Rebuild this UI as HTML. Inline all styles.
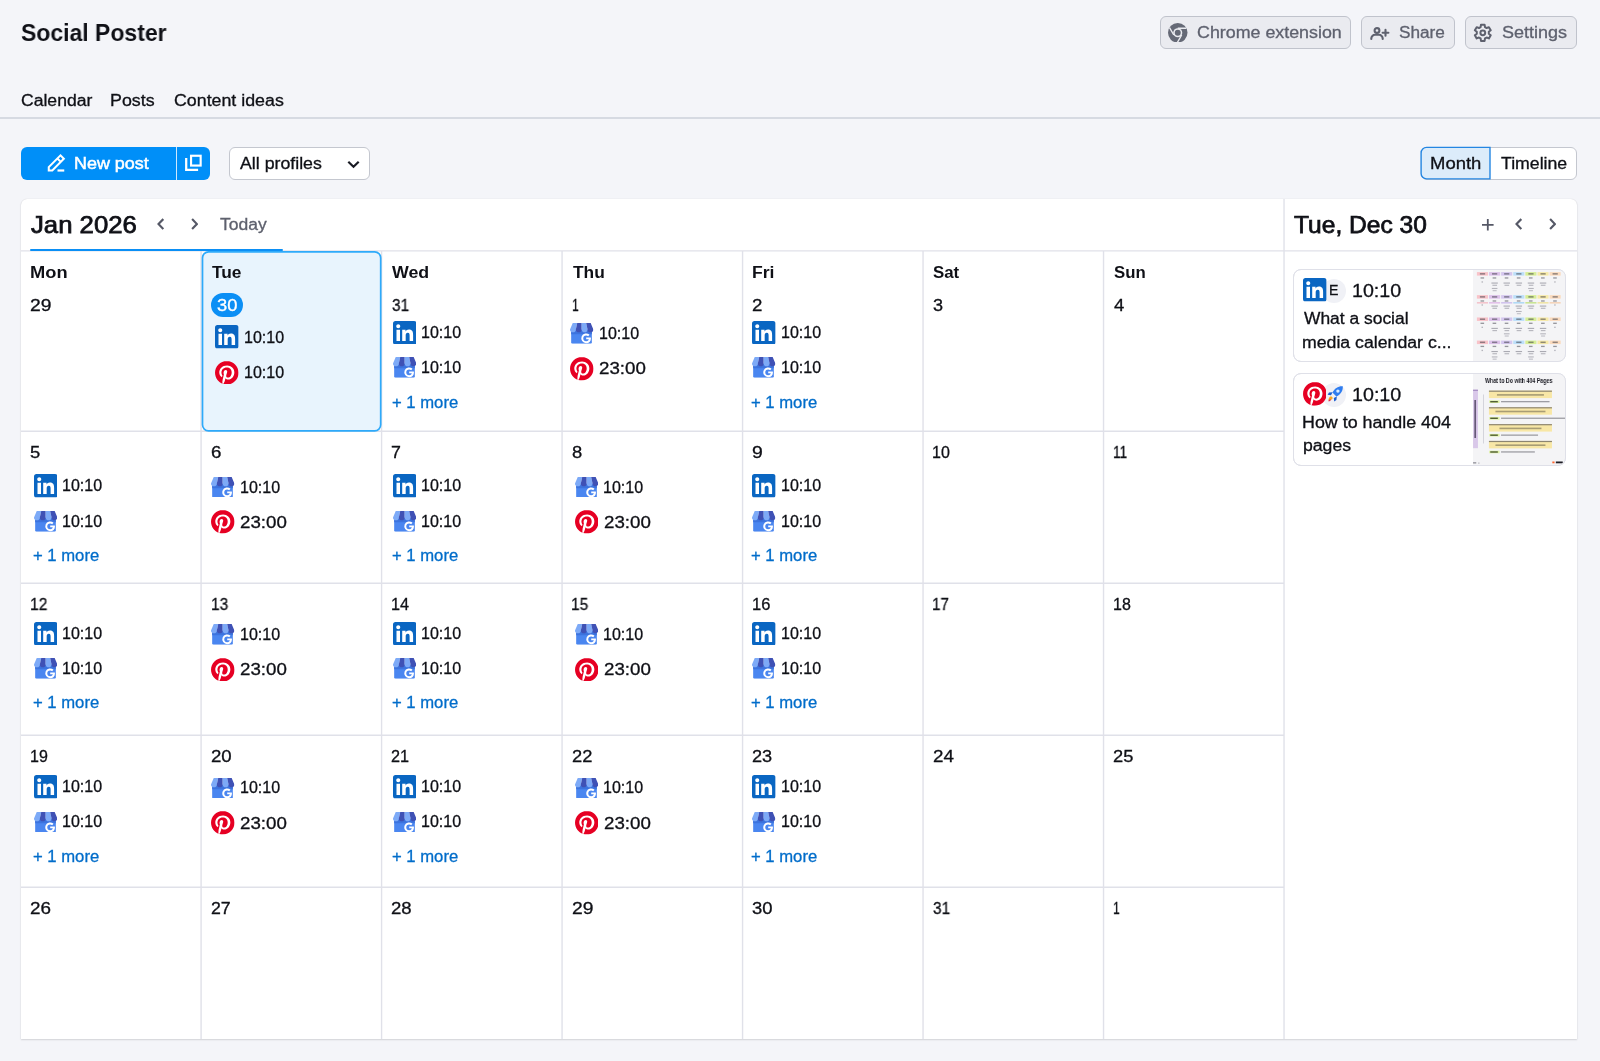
<!DOCTYPE html>
<html lang="en"><head><meta charset="utf-8"><title>Social Poster</title>
<style>
html,body{margin:0;padding:0}
body{width:1600px;height:1061px;overflow:hidden;background:#f4f5f9;font-family:"Liberation Sans",sans-serif;position:relative}
.a{position:absolute;display:block}
.t{position:absolute;line-height:1;white-space:nowrap;will-change:transform;transform-origin:0 0}
</style></head>
<body>
<svg width="0" height="0" style="position:absolute"><defs>
<symbol id="li" viewBox="0 0 24 24"><rect width="24" height="24" rx="2.600" fill="#0a66c2"/><path fill="#fff" d="M20.447 20.452h-3.554v-5.569c0-1.328-.027-3.037-1.852-3.037-1.853 0-2.136 1.445-2.136 2.939v5.667H9.351V9h3.414v1.561h.046c.477-.9 1.637-1.85 3.37-1.85 3.601 0 4.267 2.37 4.267 5.455v6.286zM5.337 7.433c-1.144 0-2.063-.926-2.063-2.065 0-1.138.92-2.063 2.063-2.063 1.14 0 2.064.925 2.064 2.063 0 1.139-.925 2.065-2.064 2.065zM7.119 20.452H3.555V9h3.564v11.452z"/></symbol>
<symbol id="pi" viewBox="0 0 24 24"><circle cx="12" cy="12" r="11.5" fill="#fff"/><path fill="#e60023" d="M12.017 0C5.396 0 .029 5.367.029 11.987c0 5.079 3.158 9.417 7.618 11.162-.105-.949-.199-2.403.041-3.439.219-.937 1.406-5.957 1.406-5.957s-.359-.72-.359-1.781c0-1.663.967-2.911 2.168-2.911 1.024 0 1.518.769 1.518 1.688 0 1.029-.653 2.567-.992 3.992-.285 1.193.6 2.165 1.775 2.165 2.128 0 3.768-2.245 3.768-5.487 0-2.861-2.063-4.869-5.008-4.869-3.41 0-5.409 2.562-5.409 5.199 0 1.033.394 2.143.889 2.741.099.12.112.225.085.345-.09.375-.293 1.199-.334 1.363-.053.225-.172.271-.401.165-1.495-.69-2.433-2.878-2.433-4.646 0-3.776 2.748-7.252 7.92-7.252 4.158 0 7.392 2.967 7.392 6.923 0 4.135-2.607 7.462-6.233 7.462-1.214 0-2.354-.629-2.758-1.379l-.749 2.848c-.269 1.045-1.004 2.352-1.498 3.146 1.123.345 2.306.535 3.55.535 6.607 0 11.985-5.365 11.985-11.987C23.97 5.39 18.592.026 11.985.026L12.017 0z"/></symbol>
<symbol id="gb" viewBox="0 0 24 21.4">
<path fill="#4a86f0" d="M1.2 7h21.2v12.8a1.6 1.6 0 0 1-1.6 1.6H2.800a1.600 1.600 0 0 1-1.600-1.600z"/>
<path fill="#3c73de" d="M1.2 7h21.2v4.600H1.2z"/>
<path fill="#7daaf7" d="M2.800 0H7.400L6 6.600A3 2.900 0 0 1 0 6.600z"/>
<path fill="#3f51b5" d="M7.400 0H12V6.600A3 2.900 0 0 1 6 6.600z"/>
<path fill="#7daaf7" d="M12 0H16.600L18 6.600A3 2.900 0 0 1 12 6.600z"/>
<path fill="#3f51b5" d="M16.600 0H21.200L24 6.600A3 2.900 0 0 1 18 6.600z"/>
<g transform="translate(16.5 15.1) scale(1.16) translate(-16.7 -15.8)"><path fill="#fff" d="M20.9 15.55h-4.1v1.7h2.3c-.2 1.05-1.1 1.7-2.3 1.7a2.6 2.6 0 0 1 0-5.2c.65 0 1.25.23 1.7.65l1.25-1.25a4.35 4.35 0 1 0-2.95 7.55c2.5 0 4.2-1.75 4.2-4.25 0-.3-.03-.6-.1-.9z"/></g>
</symbol>
</defs></svg>
<div class="t" style="left:21.00px;top:21.00px;font-size:24px;color:#0f1016;font-weight:700;transform:scaleX(0.9568);">Social Poster</div>
<div class="t" style="left:20.78px;top:93.00px;font-size:16px;color:#0f1016;transform:scaleX(1.0984);-webkit-text-stroke:0.3px #0f1016;">Calendar</div>
<div class="t" style="left:110.41px;top:93.00px;font-size:16px;color:#0f1016;transform:scaleX(1.1137);-webkit-text-stroke:0.3px #0f1016;">Posts</div>
<div class="t" style="left:173.57px;top:93.00px;font-size:16px;color:#0f1016;transform:scaleX(1.1118);-webkit-text-stroke:0.3px #0f1016;">Content ideas</div>
<svg class="a" style="left:0;top:115px" width="1600" height="6"><path d="M0 3H1600" stroke="#cdd0da" stroke-width="1.700"/></svg>
<div class="a" style="left:1160px;top:15.5px;width:191px;height:33px;box-sizing:border-box;border:1px solid #c0c3cc;border-radius:6px;background:#eaebf0"></div>
<div class="a" style="left:1361px;top:15.5px;width:93.5px;height:33px;box-sizing:border-box;border:1px solid #c0c3cc;border-radius:6px;background:#eaebf0"></div>
<div class="a" style="left:1464.5px;top:15.5px;width:112.5px;height:33px;box-sizing:border-box;border:1px solid #c0c3cc;border-radius:6px;background:#eaebf0"></div>
<div class="t" style="left:1196.86px;top:24.60px;font-size:16px;color:#5e616e;transform:scaleX(1.1145);-webkit-text-stroke:0.3px #5e616e;">Chrome extension</div>
<div class="t" style="left:1398.53px;top:24.60px;font-size:16px;color:#5e616e;transform:scaleX(1.0755);-webkit-text-stroke:0.3px #5e616e;">Share</div>
<div class="t" style="left:1501.50px;top:24.60px;font-size:16px;color:#5e616e;transform:scaleX(1.1242);-webkit-text-stroke:0.3px #5e616e;">Settings</div>
<svg class="a" style="left:1168.3px;top:22.6px" width="19.5" height="19.5" viewBox="0 0 24 24"><circle cx="12" cy="12" r="12" fill="#656976"/><circle cx="12" cy="12" r="5.600" fill="#eaebf0"/><circle cx="12" cy="12" r="3.700" fill="#656976"/><path d="M12 6.400H22.600M7.150 14.800L1.850 5.600M16.850 14.800L11.500 24" stroke="#eaebf0" stroke-width="1.7" fill="none"/></svg>
<svg class="a" style="left:1369px;top:25px" width="21" height="16" viewBox="0 0 21 16" fill="none" stroke="#5e616e" stroke-width="2.1" stroke-linecap="round" stroke-linejoin="round"><circle cx="8" cy="5.500" r="2.400"/><path d="M2.300 14v-.500a3.700 3.700 0 0 1 3.700-3.700h4a3.700 3.700 0 0 1 3.700 3.700v.500M16.500 4.900v5.800M13.600 7.800h5.800"/></svg>
<svg class="a" style="left:1472.7px;top:22.5px" width="19.6" height="19.6" viewBox="0 0 19.6 19.6" fill="none" stroke="#5e616e" stroke-width="2" stroke-linejoin="round"><circle cx="9.8" cy="9.8" r="2.4"/><path d="M7.61 4.11L8.00 1.70L11.60 1.70L11.99 4.11L13.64 5.06L15.92 4.19L17.72 7.30L15.82 8.85L15.82 10.75L17.72 12.30L15.92 15.41L13.64 14.54L11.99 15.49L11.60 17.90L8.00 17.90L7.61 15.49L5.96 14.54L3.68 15.41L1.88 12.30L3.78 10.75L3.78 8.85L1.88 7.30L3.68 4.19L5.96 5.06z"/></svg>
<div class="a" style="left:21px;top:147px;width:189px;height:33px;background:#008ff8;border-radius:6px"></div>
<div class="a" style="left:176px;top:147px;width:1px;height:33px;background:#cfe8fd"></div>
<div class="t" style="left:74.40px;top:156.00px;font-size:16px;color:#fff;transform:scaleX(1.1197);-webkit-text-stroke:0.5px #fff;">New post</div>
<svg class="a" style="left:46.5px;top:152.5px" width="20" height="20" viewBox="0 0 20 20" fill="none" stroke="#fff" stroke-width="2"><path d="M1.750 17.500V14.100L13.500 2.400l3.350 3.400L5.300 17.500zM10.400 5.500l3.400 3.400" stroke-linejoin="miter"/><path d="M10.500 17.500h6.750" stroke-width="2.200"/></svg>
<svg class="a" style="left:184px;top:153px" width="20" height="20" viewBox="0 0 20 20" fill="none" stroke="#fff" stroke-width="2.150"><rect x="7.050" y="2.750" width="9.600" height="9.800"/><path d="M2.200 5.100V16.900H14.100" stroke-width="2.250"/></svg>
<div class="a" style="left:228.5px;top:147px;width:141px;height:33px;box-sizing:border-box;border:1px solid #c4c7cf;border-radius:6px;background:#fff"></div>
<div class="t" style="left:239.75px;top:156.20px;font-size:16px;color:#0f1016;transform:scaleX(1.1092);-webkit-text-stroke:0.3px #0f1016;">All profiles</div>
<svg class="a" style="left:346.5px;top:159.500px" width="13" height="9" viewBox="0 0 13 9" fill="none" stroke="#191b23" stroke-width="2.200"><path d="M1.300 1.700l5.200 5 5.200-5"/></svg>
<div class="a" style="left:1420.5px;top:147px;width:156.5px;height:33px;box-sizing:border-box;border:1px solid #c4c7cf;border-radius:6px;background:#fff"></div>
<svg class="a" style="left:1418px;top:144px" width="76" height="38"><path d="M72 3.400H8.600a5.500 5.500 0 0 0-5.500 5.500v20.500a5.500 5.500 0 0 0 5.500 5.500H72z" fill="#dcecfa" stroke="#2486e2" stroke-width="1.400"/></svg>
<div class="t" style="left:1429.81px;top:155.80px;font-size:16px;color:#0f1016;transform:scaleX(1.1538);-webkit-text-stroke:0.3px #0f1016;">Month</div>
<div class="t" style="left:1500.72px;top:155.80px;font-size:16px;color:#0f1016;transform:scaleX(1.1059);-webkit-text-stroke:0.3px #0f1016;">Timeline</div>
<div class="a" style="left:21px;top:199px;width:1556px;height:840px;background:#fff;border-radius:6px 6px 0 0;box-shadow:0 0 1px rgba(25,27,35,.18),0 1px 2px rgba(25,27,35,.14)"></div>
<div class="t" style="left:30.50px;top:212.50px;font-size:24px;color:#0f1016;transform:scaleX(1.0711);-webkit-text-stroke:0.75px #0f1016;">Jan 2026</div>
<div class="t" style="left:219.98px;top:216.60px;font-size:16px;color:#5e616e;transform:scaleX(1.0941);-webkit-text-stroke:0.3px #5e616e;">Today</div>
<div class="t" style="left:1294.49px;top:212.60px;font-size:24px;color:#0f1016;transform:scaleX(1.0226);-webkit-text-stroke:0.75px #0f1016;">Tue, Dec 30</div>
<svg class="a" style="left:157.05px;top:218.20px" width="7.4" height="12.2" viewBox="0 0 7.4 12.2" fill="none" stroke="#555866" stroke-width="2.1"><path d="M6.300000000000001 1.1L1.5 6.1l4.800000000000001 5.0"/></svg>
<svg class="a" style="left:190.80px;top:218.20px" width="7.4" height="12.2" viewBox="0 0 7.4 12.2" fill="none" stroke="#555866" stroke-width="2.1"><path d="M1.1 1.1l4.800000000000001 5.0L1.1 11.1"/></svg>
<svg class="a" style="left:1514.80px;top:218.30px" width="7.4" height="12.2" viewBox="0 0 7.4 12.2" fill="none" stroke="#555866" stroke-width="2.1"><path d="M6.300000000000001 1.1L1.5 6.1l4.800000000000001 5.0"/></svg>
<svg class="a" style="left:1548.60px;top:218.30px" width="7.4" height="12.2" viewBox="0 0 7.4 12.2" fill="none" stroke="#555866" stroke-width="2.1"><path d="M1.1 1.1l4.800000000000001 5.0L1.1 11.1"/></svg>
<svg class="a" style="left:1482px;top:219px" width="11.6" height="11.6" viewBox="0 0 11.6 11.6" stroke="#555866" stroke-width="1.8" fill="none"><path d="M5.8 0v11.6M0 5.8h11.6"/></svg>
<svg class="a" style="left:0;top:0" width="1600" height="1061" fill="none" stroke="#e0e1e9" stroke-width="1.4"><path d="M21 250.9H1577"/><path d="M21 431.2H1284"/><path d="M21 583.3H1284"/><path d="M21 735.3H1284"/><path d="M21 887.3H1284"/><path d="M201.09 251V1039"/><path d="M381.58 251V1039"/><path d="M562.07 251V1039"/><path d="M742.56 251V1039"/><path d="M923.05 251V1039"/><path d="M1103.54 251V1039"/><path d="M1284.03 199V1039"/></svg>
<div class="a" style="left:30px;top:249px;width:253px;height:2.4px;background:#0b8ff5;border-radius:1px"></div>
<svg class="a" style="left:200px;top:249px" width="184" height="185"><rect x="2.5" y="2.9" width="178.2" height="178.9" rx="6" fill="#e8f4fd" stroke="#2eaafa" stroke-width="1.7"/></svg>
<div class="t" style="left:29.56px;top:264.90px;font-size:16px;color:#0f1016;font-weight:700;transform:scaleX(1.1419);">Mon</div>
<div class="t" style="left:211.66px;top:264.90px;font-size:16px;color:#0f1016;font-weight:700;transform:scaleX(1.0817);">Tue</div>
<div class="t" style="left:391.90px;top:264.90px;font-size:16px;color:#0f1016;font-weight:700;transform:scaleX(1.1108);">Wed</div>
<div class="t" style="left:572.66px;top:264.90px;font-size:16px;color:#0f1016;font-weight:700;transform:scaleX(1.0844);">Thu</div>
<div class="t" style="left:752.10px;top:264.90px;font-size:16px;color:#0f1016;font-weight:700;transform:scaleX(1.0993);">Fri</div>
<div class="t" style="left:933.21px;top:264.90px;font-size:16px;color:#0f1016;font-weight:700;transform:scaleX(1.0531);">Sat</div>
<div class="t" style="left:1113.61px;top:264.90px;font-size:16px;color:#0f1016;font-weight:700;transform:scaleX(1.0483);">Sun</div>
<div class="t" style="left:30.20px;top:297.60px;font-size:16px;color:#0f1016;transform:scaleX(1.2031);-webkit-text-stroke:0.3px #0f1016;">29</div>
<div class="t" style="left:391.60px;top:297.60px;font-size:16px;color:#0f1016;transform:scaleX(0.9545);-webkit-text-stroke:0.3px #0f1016;">31</div>
<div class="t" style="left:571.72px;top:297.60px;font-size:16px;color:#0f1016;transform:scaleX(0.7571);-webkit-text-stroke:0.3px #0f1016;">1</div>
<div class="t" style="left:752.19px;top:297.60px;font-size:16px;color:#0f1016;transform:scaleX(1.1661);-webkit-text-stroke:0.3px #0f1016;">2</div>
<div class="t" style="left:932.99px;top:297.60px;font-size:16px;color:#0f1016;transform:scaleX(1.1290);-webkit-text-stroke:0.3px #0f1016;">3</div>
<div class="t" style="left:1113.75px;top:297.60px;font-size:16px;color:#0f1016;transform:scaleX(1.1515);-webkit-text-stroke:0.3px #0f1016;">4</div>
<div class="t" style="left:30.38px;top:445.30px;font-size:16px;color:#0f1016;transform:scaleX(1.1475);-webkit-text-stroke:0.3px #0f1016;">5</div>
<div class="t" style="left:210.72px;top:445.30px;font-size:16px;color:#0f1016;transform:scaleX(1.1667);-webkit-text-stroke:0.3px #0f1016;">6</div>
<div class="t" style="left:391.25px;top:445.30px;font-size:16px;color:#0f1016;transform:scaleX(1.1119);-webkit-text-stroke:0.3px #0f1016;">7</div>
<div class="t" style="left:571.85px;top:445.30px;font-size:16px;color:#0f1016;transform:scaleX(1.1475);-webkit-text-stroke:0.3px #0f1016;">8</div>
<div class="t" style="left:752.15px;top:445.30px;font-size:16px;color:#0f1016;transform:scaleX(1.2133);-webkit-text-stroke:0.3px #0f1016;">9</div>
<div class="t" style="left:932.43px;top:445.30px;font-size:16px;color:#0f1016;transform:scaleX(0.9922);-webkit-text-stroke:0.3px #0f1016;">10</div>
<div class="t" style="left:1113.09px;top:445.30px;font-size:16px;color:#0f1016;transform:scaleX(0.8475);-webkit-text-stroke:0.3px #0f1016;">11</div>
<div class="t" style="left:30.01px;top:597.30px;font-size:16px;color:#0f1016;transform:scaleX(0.9701);-webkit-text-stroke:0.3px #0f1016;">12</div>
<div class="t" style="left:210.51px;top:597.30px;font-size:16px;color:#0f1016;transform:scaleX(0.9625);-webkit-text-stroke:0.3px #0f1016;">13</div>
<div class="t" style="left:390.94px;top:597.30px;font-size:16px;color:#0f1016;transform:scaleX(1.0123);-webkit-text-stroke:0.3px #0f1016;">14</div>
<div class="t" style="left:571.49px;top:597.30px;font-size:16px;color:#0f1016;transform:scaleX(0.9625);-webkit-text-stroke:0.3px #0f1016;">15</div>
<div class="t" style="left:751.90px;top:597.30px;font-size:16px;color:#0f1016;transform:scaleX(1.0281);-webkit-text-stroke:0.3px #0f1016;">16</div>
<div class="t" style="left:932.49px;top:597.30px;font-size:16px;color:#0f1016;transform:scaleX(0.9449);-webkit-text-stroke:0.3px #0f1016;">17</div>
<div class="t" style="left:1112.91px;top:597.30px;font-size:16px;color:#0f1016;-webkit-text-stroke:0.3px #0f1016;">18</div>
<div class="t" style="left:30.00px;top:749.30px;font-size:16px;color:#0f1016;transform:scaleX(0.9750);-webkit-text-stroke:0.3px #0f1016;">19</div>
<div class="t" style="left:210.72px;top:749.30px;font-size:16px;color:#0f1016;transform:scaleX(1.1636);-webkit-text-stroke:0.3px #0f1016;">20</div>
<div class="t" style="left:391.32px;top:749.30px;font-size:16px;color:#0f1016;transform:scaleX(1.0123);-webkit-text-stroke:0.3px #0f1016;">21</div>
<div class="t" style="left:571.71px;top:749.30px;font-size:16px;color:#0f1016;transform:scaleX(1.1415);-webkit-text-stroke:0.3px #0f1016;">22</div>
<div class="t" style="left:752.21px;top:749.30px;font-size:16px;color:#0f1016;transform:scaleX(1.1328);-webkit-text-stroke:0.3px #0f1016;">23</div>
<div class="t" style="left:932.67px;top:749.30px;font-size:16px;color:#0f1016;transform:scaleX(1.1729);-webkit-text-stroke:0.3px #0f1016;">24</div>
<div class="t" style="left:1113.18px;top:749.30px;font-size:16px;color:#0f1016;transform:scaleX(1.1420);-webkit-text-stroke:0.3px #0f1016;">25</div>
<div class="t" style="left:30.22px;top:901.40px;font-size:16px;color:#0f1016;transform:scaleX(1.1756);-webkit-text-stroke:0.3px #0f1016;">26</div>
<div class="t" style="left:210.76px;top:901.40px;font-size:16px;color:#0f1016;transform:scaleX(1.1077);-webkit-text-stroke:0.3px #0f1016;">27</div>
<div class="t" style="left:391.21px;top:901.40px;font-size:16px;color:#0f1016;transform:scaleX(1.1603);-webkit-text-stroke:0.3px #0f1016;">28</div>
<div class="t" style="left:571.67px;top:901.40px;font-size:16px;color:#0f1016;transform:scaleX(1.2031);-webkit-text-stroke:0.3px #0f1016;">29</div>
<div class="t" style="left:752.48px;top:901.40px;font-size:16px;color:#0f1016;transform:scaleX(1.1522);-webkit-text-stroke:0.3px #0f1016;">30</div>
<div class="t" style="left:933.07px;top:901.40px;font-size:16px;color:#0f1016;transform:scaleX(0.9545);-webkit-text-stroke:0.3px #0f1016;">31</div>
<div class="t" style="left:1113.19px;top:901.40px;font-size:16px;color:#0f1016;transform:scaleX(0.7571);-webkit-text-stroke:0.3px #0f1016;">1</div>
<div class="a" style="left:211px;top:293.2px;width:32.4px;height:24px;background:#0b8ff5;border-radius:12px"></div>
<div class="t" style="left:216.83px;top:297.90px;font-size:16px;color:#fff;transform:scaleX(1.1463);-webkit-text-stroke:0.3px #fff;">30</div>
<svg class="a" style="left:392.80px;top:320.90px" width="23.60" height="23.60"><use href="#li"/></svg>
<div class="t" style="left:421.37px;top:325.10px;font-size:16px;color:#0f1016;-webkit-text-stroke:0.3px #0f1016;">10:10</div>
<svg class="a" style="left:392.90px;top:357.40px" width="23.40" height="20.86"><use href="#gb"/></svg>
<div class="t" style="left:421.37px;top:360.30px;font-size:16px;color:#0f1016;-webkit-text-stroke:0.3px #0f1016;">10:10</div>
<div class="t" style="left:391.82px;top:394.70px;font-size:16px;color:#006dca;transform:scaleX(1.0410);-webkit-text-stroke:0.3px #006dca;">+ 1 more</div>
<svg class="a" style="left:752.20px;top:320.90px" width="23.60" height="23.60"><use href="#li"/></svg>
<div class="t" style="left:780.77px;top:325.10px;font-size:16px;color:#0f1016;-webkit-text-stroke:0.3px #0f1016;">10:10</div>
<svg class="a" style="left:752.30px;top:357.40px" width="23.40" height="20.86"><use href="#gb"/></svg>
<div class="t" style="left:780.77px;top:360.30px;font-size:16px;color:#0f1016;-webkit-text-stroke:0.3px #0f1016;">10:10</div>
<div class="t" style="left:751.22px;top:394.70px;font-size:16px;color:#006dca;transform:scaleX(1.0410);-webkit-text-stroke:0.3px #006dca;">+ 1 more</div>
<svg class="a" style="left:570.40px;top:323.20px" width="23.40" height="20.86"><use href="#gb"/></svg>
<div class="t" style="left:598.87px;top:326.10px;font-size:16px;color:#0f1016;-webkit-text-stroke:0.3px #0f1016;">10:10</div>
<svg class="a" style="left:570.30px;top:357.10px" width="23.60" height="23.60"><use href="#pi"/></svg>
<div class="t" style="left:599.12px;top:361.30px;font-size:16px;color:#0f1016;transform:scaleX(1.1690);-webkit-text-stroke:0.3px #0f1016;">23:00</div>
<svg class="a" style="left:33.80px;top:474.20px" width="23.60" height="23.60"><use href="#li"/></svg>
<div class="t" style="left:62.37px;top:478.40px;font-size:16px;color:#0f1016;-webkit-text-stroke:0.3px #0f1016;">10:10</div>
<svg class="a" style="left:33.90px;top:510.70px" width="23.40" height="20.86"><use href="#gb"/></svg>
<div class="t" style="left:62.37px;top:513.60px;font-size:16px;color:#0f1016;-webkit-text-stroke:0.3px #0f1016;">10:10</div>
<div class="t" style="left:32.82px;top:548.20px;font-size:16px;color:#006dca;transform:scaleX(1.0410);-webkit-text-stroke:0.3px #006dca;">+ 1 more</div>
<svg class="a" style="left:392.80px;top:474.20px" width="23.60" height="23.60"><use href="#li"/></svg>
<div class="t" style="left:421.37px;top:478.40px;font-size:16px;color:#0f1016;-webkit-text-stroke:0.3px #0f1016;">10:10</div>
<svg class="a" style="left:392.90px;top:510.70px" width="23.40" height="20.86"><use href="#gb"/></svg>
<div class="t" style="left:421.37px;top:513.60px;font-size:16px;color:#0f1016;-webkit-text-stroke:0.3px #0f1016;">10:10</div>
<div class="t" style="left:391.82px;top:548.20px;font-size:16px;color:#006dca;transform:scaleX(1.0410);-webkit-text-stroke:0.3px #006dca;">+ 1 more</div>
<svg class="a" style="left:752.20px;top:474.20px" width="23.60" height="23.60"><use href="#li"/></svg>
<div class="t" style="left:780.77px;top:478.40px;font-size:16px;color:#0f1016;-webkit-text-stroke:0.3px #0f1016;">10:10</div>
<svg class="a" style="left:752.30px;top:510.70px" width="23.40" height="20.86"><use href="#gb"/></svg>
<div class="t" style="left:780.77px;top:513.60px;font-size:16px;color:#0f1016;-webkit-text-stroke:0.3px #0f1016;">10:10</div>
<div class="t" style="left:751.22px;top:548.20px;font-size:16px;color:#006dca;transform:scaleX(1.0410);-webkit-text-stroke:0.3px #006dca;">+ 1 more</div>
<svg class="a" style="left:211.40px;top:476.60px" width="23.40" height="20.86"><use href="#gb"/></svg>
<div class="t" style="left:239.87px;top:479.50px;font-size:16px;color:#0f1016;-webkit-text-stroke:0.3px #0f1016;">10:10</div>
<svg class="a" style="left:211.30px;top:510.40px" width="23.60" height="23.60"><use href="#pi"/></svg>
<div class="t" style="left:240.12px;top:514.60px;font-size:16px;color:#0f1016;transform:scaleX(1.1690);-webkit-text-stroke:0.3px #0f1016;">23:00</div>
<svg class="a" style="left:574.90px;top:476.60px" width="23.40" height="20.86"><use href="#gb"/></svg>
<div class="t" style="left:603.37px;top:479.50px;font-size:16px;color:#0f1016;-webkit-text-stroke:0.3px #0f1016;">10:10</div>
<svg class="a" style="left:574.80px;top:510.40px" width="23.60" height="23.60"><use href="#pi"/></svg>
<div class="t" style="left:603.62px;top:514.60px;font-size:16px;color:#0f1016;transform:scaleX(1.1690);-webkit-text-stroke:0.3px #0f1016;">23:00</div>
<svg class="a" style="left:33.80px;top:621.50px" width="23.60" height="23.60"><use href="#li"/></svg>
<div class="t" style="left:62.37px;top:625.70px;font-size:16px;color:#0f1016;-webkit-text-stroke:0.3px #0f1016;">10:10</div>
<svg class="a" style="left:33.90px;top:658.00px" width="23.40" height="20.86"><use href="#gb"/></svg>
<div class="t" style="left:62.37px;top:660.90px;font-size:16px;color:#0f1016;-webkit-text-stroke:0.3px #0f1016;">10:10</div>
<div class="t" style="left:32.82px;top:695.30px;font-size:16px;color:#006dca;transform:scaleX(1.0410);-webkit-text-stroke:0.3px #006dca;">+ 1 more</div>
<svg class="a" style="left:392.80px;top:621.50px" width="23.60" height="23.60"><use href="#li"/></svg>
<div class="t" style="left:421.37px;top:625.70px;font-size:16px;color:#0f1016;-webkit-text-stroke:0.3px #0f1016;">10:10</div>
<svg class="a" style="left:392.90px;top:658.00px" width="23.40" height="20.86"><use href="#gb"/></svg>
<div class="t" style="left:421.37px;top:660.90px;font-size:16px;color:#0f1016;-webkit-text-stroke:0.3px #0f1016;">10:10</div>
<div class="t" style="left:391.82px;top:695.30px;font-size:16px;color:#006dca;transform:scaleX(1.0410);-webkit-text-stroke:0.3px #006dca;">+ 1 more</div>
<svg class="a" style="left:752.20px;top:621.50px" width="23.60" height="23.60"><use href="#li"/></svg>
<div class="t" style="left:780.77px;top:625.70px;font-size:16px;color:#0f1016;-webkit-text-stroke:0.3px #0f1016;">10:10</div>
<svg class="a" style="left:752.30px;top:658.00px" width="23.40" height="20.86"><use href="#gb"/></svg>
<div class="t" style="left:780.77px;top:660.90px;font-size:16px;color:#0f1016;-webkit-text-stroke:0.3px #0f1016;">10:10</div>
<div class="t" style="left:751.22px;top:695.30px;font-size:16px;color:#006dca;transform:scaleX(1.0410);-webkit-text-stroke:0.3px #006dca;">+ 1 more</div>
<svg class="a" style="left:211.40px;top:623.90px" width="23.40" height="20.86"><use href="#gb"/></svg>
<div class="t" style="left:239.87px;top:626.80px;font-size:16px;color:#0f1016;-webkit-text-stroke:0.3px #0f1016;">10:10</div>
<svg class="a" style="left:211.30px;top:657.50px" width="23.60" height="23.60"><use href="#pi"/></svg>
<div class="t" style="left:240.12px;top:661.70px;font-size:16px;color:#0f1016;transform:scaleX(1.1690);-webkit-text-stroke:0.3px #0f1016;">23:00</div>
<svg class="a" style="left:574.90px;top:623.90px" width="23.40" height="20.86"><use href="#gb"/></svg>
<div class="t" style="left:603.37px;top:626.80px;font-size:16px;color:#0f1016;-webkit-text-stroke:0.3px #0f1016;">10:10</div>
<svg class="a" style="left:574.80px;top:657.50px" width="23.60" height="23.60"><use href="#pi"/></svg>
<div class="t" style="left:603.62px;top:661.70px;font-size:16px;color:#0f1016;transform:scaleX(1.1690);-webkit-text-stroke:0.3px #0f1016;">23:00</div>
<svg class="a" style="left:33.80px;top:775.20px" width="23.60" height="23.60"><use href="#li"/></svg>
<div class="t" style="left:62.37px;top:779.40px;font-size:16px;color:#0f1016;-webkit-text-stroke:0.3px #0f1016;">10:10</div>
<svg class="a" style="left:33.90px;top:811.50px" width="23.40" height="20.86"><use href="#gb"/></svg>
<div class="t" style="left:62.37px;top:814.40px;font-size:16px;color:#0f1016;-webkit-text-stroke:0.3px #0f1016;">10:10</div>
<div class="t" style="left:32.82px;top:848.90px;font-size:16px;color:#006dca;transform:scaleX(1.0410);-webkit-text-stroke:0.3px #006dca;">+ 1 more</div>
<svg class="a" style="left:392.80px;top:775.20px" width="23.60" height="23.60"><use href="#li"/></svg>
<div class="t" style="left:421.37px;top:779.40px;font-size:16px;color:#0f1016;-webkit-text-stroke:0.3px #0f1016;">10:10</div>
<svg class="a" style="left:392.90px;top:811.50px" width="23.40" height="20.86"><use href="#gb"/></svg>
<div class="t" style="left:421.37px;top:814.40px;font-size:16px;color:#0f1016;-webkit-text-stroke:0.3px #0f1016;">10:10</div>
<div class="t" style="left:391.82px;top:848.90px;font-size:16px;color:#006dca;transform:scaleX(1.0410);-webkit-text-stroke:0.3px #006dca;">+ 1 more</div>
<svg class="a" style="left:752.20px;top:775.20px" width="23.60" height="23.60"><use href="#li"/></svg>
<div class="t" style="left:780.77px;top:779.40px;font-size:16px;color:#0f1016;-webkit-text-stroke:0.3px #0f1016;">10:10</div>
<svg class="a" style="left:752.30px;top:811.50px" width="23.40" height="20.86"><use href="#gb"/></svg>
<div class="t" style="left:780.77px;top:814.40px;font-size:16px;color:#0f1016;-webkit-text-stroke:0.3px #0f1016;">10:10</div>
<div class="t" style="left:751.22px;top:848.90px;font-size:16px;color:#006dca;transform:scaleX(1.0410);-webkit-text-stroke:0.3px #006dca;">+ 1 more</div>
<svg class="a" style="left:211.40px;top:777.50px" width="23.40" height="20.86"><use href="#gb"/></svg>
<div class="t" style="left:239.87px;top:780.40px;font-size:16px;color:#0f1016;-webkit-text-stroke:0.3px #0f1016;">10:10</div>
<svg class="a" style="left:211.30px;top:811.30px" width="23.60" height="23.60"><use href="#pi"/></svg>
<div class="t" style="left:240.12px;top:815.50px;font-size:16px;color:#0f1016;transform:scaleX(1.1690);-webkit-text-stroke:0.3px #0f1016;">23:00</div>
<svg class="a" style="left:574.90px;top:777.50px" width="23.40" height="20.86"><use href="#gb"/></svg>
<div class="t" style="left:603.37px;top:780.40px;font-size:16px;color:#0f1016;-webkit-text-stroke:0.3px #0f1016;">10:10</div>
<svg class="a" style="left:574.80px;top:811.30px" width="23.60" height="23.60"><use href="#pi"/></svg>
<div class="t" style="left:603.62px;top:815.50px;font-size:16px;color:#0f1016;transform:scaleX(1.1690);-webkit-text-stroke:0.3px #0f1016;">23:00</div>
<svg class="a" style="left:215.20px;top:325.40px" width="23.60" height="23.60"><use href="#li"/></svg>
<div class="t" style="left:243.77px;top:329.60px;font-size:16px;color:#0f1016;-webkit-text-stroke:0.3px #0f1016;">10:10</div>
<svg class="a" style="left:215.20px;top:360.70px" width="23.60" height="23.60"><use href="#pi"/></svg>
<div class="t" style="left:243.77px;top:364.90px;font-size:16px;color:#0f1016;-webkit-text-stroke:0.3px #0f1016;">10:10</div>
<div class="a" style="left:1292.5px;top:268.6px;width:273.2px;height:93.4px;box-sizing:border-box;border:1px solid #dfe0e8;border-radius:8px;background:#fff"></div>
<div class="a" style="left:1292.5px;top:372.5px;width:273.2px;height:93.3px;box-sizing:border-box;border:1px solid #dfe0e8;border-radius:8px;background:#fff"></div>
<div class="a" style="left:1321.5px;top:279px;width:24px;height:24px;background:#f0f1f6;border-radius:12px"></div>
<div class="a" style="left:1321.5px;top:382.5px;width:24px;height:24px;background:#f0f1f6;border-radius:12px"></div>
<svg class="a" style="left:1303.00px;top:278.30px" width="23.60" height="23.60"><use href="#li"/></svg>
<svg class="a" style="left:1302.70px;top:381.90px" width="23.80" height="23.80"><use href="#pi"/></svg>
<div class="t" style="left:1328.56px;top:282.70px;font-size:14px;color:#0f1016;transform:scaleX(1.0098);-webkit-text-stroke:0.3px #0f1016;">E</div>
<div class="t" style="left:1352.18px;top:281.40px;font-size:19px;color:#0f1016;transform:scaleX(1.0330);-webkit-text-stroke:0.3px #0f1016;">10:10</div>
<div class="t" style="left:1351.98px;top:384.60px;font-size:19px;color:#0f1016;transform:scaleX(1.0352);-webkit-text-stroke:0.3px #0f1016;">10:10</div>
<div class="t" style="left:1303.60px;top:311.20px;font-size:16px;color:#0f1016;transform:scaleX(1.0884);-webkit-text-stroke:0.3px #0f1016;">What a social</div>
<div class="t" style="left:1302.49px;top:335.00px;font-size:16px;color:#0f1016;transform:scaleX(1.1058);-webkit-text-stroke:0.3px #0f1016;">media calendar c...</div>
<div class="t" style="left:1302.21px;top:414.70px;font-size:16px;color:#0f1016;transform:scaleX(1.1157);-webkit-text-stroke:0.3px #0f1016;">How to handle 404</div>
<div class="t" style="left:1302.50px;top:438.30px;font-size:16px;color:#0f1016;transform:scaleX(1.1015);-webkit-text-stroke:0.3px #0f1016;">pages</div>
<svg class="a" style="left:1325.6px;top:384.8px" width="18" height="18" viewBox="0 0 18 18"><path d="M16.8 1.2c-4.6-.3-8.2 2-10.4 6.4l4 4c4.4-2.2 6.7-5.8 6.4-10.4z" fill="#2f7df0"/><circle cx="11.9" cy="6.1" r="1.7" fill="#d9ecff"/><path d="M6.6 7.2L3 7.6 1.6 9.8l3.4.4zM10.8 11.4l-.4 3.6-2.2 1.4-.4-3.4z" fill="#1d5fd0"/><path d="M5.2 11.2c-1.8.4-2.8 2.2-2.9 4.5 2.3-.1 4.1-1.100 4.5-2.9z" fill="#f5a623"/><path d="M4.2 14.2c-1 .2-1.600 1.300-1.700 2.300 1.100-.1 2.100-.7 2.300-1.700z" fill="#e0245e"/></svg>
<svg class="a" style="left:1473px;top:268.5px;border-radius:0 8px 8px 0" width="92.7" height="93.5" viewBox="0 0 92.6 93.4"><rect width="92.6" height="93.4" fill="#f4f4f6"/><rect x="3.9" y="3.1" width="11.1" height="3.5" fill="#f8c3c9"/><rect x="6.9" y="4.1" width="5.2" height="1.5" fill="#3c3c46" opacity=".55"/><rect x="7.5" y="8.3" width="3.6" height="1.3" fill="#55555f" opacity=".6"/><rect x="8.5" y="12.299999999999999" width="1.5" height="1.3" fill="#8a8a96" opacity=".6"/><rect x="16.0" y="3.1" width="11.1" height="3.5" fill="#dcc1ea"/><rect x="19.0" y="4.1" width="5.2" height="1.5" fill="#3c3c46" opacity=".55"/><rect x="19.6" y="8.3" width="3.6" height="1.3" fill="#55555f" opacity=".6"/><rect x="18.4" y="13.5" width="6.4" height="1.1" fill="#8a8a96" opacity=".7"/><rect x="19.4" y="15.7" width="4.6" height="1.1" fill="#8a8a96" opacity=".6"/><rect x="18.8" y="18.900000000000002" width="5.6" height="1.1" fill="#8a8a96" opacity=".6"/><rect x="19.6" y="21.1" width="4" height="1.1" fill="#8a8a96" opacity=".5"/><rect x="28.1" y="3.1" width="11.1" height="3.5" fill="#d4c6ee"/><rect x="31.1" y="4.1" width="5.2" height="1.5" fill="#3c3c46" opacity=".55"/><rect x="31.7" y="8.3" width="3.6" height="1.3" fill="#55555f" opacity=".6"/><rect x="30.5" y="13.5" width="6.4" height="1.1" fill="#8a8a96" opacity=".7"/><rect x="31.5" y="15.7" width="4.6" height="1.1" fill="#8a8a96" opacity=".6"/><rect x="40.2" y="3.1" width="11.1" height="3.5" fill="#bcdffa"/><rect x="43.2" y="4.1" width="5.2" height="1.5" fill="#3c3c46" opacity=".55"/><rect x="43.8" y="8.3" width="3.6" height="1.3" fill="#55555f" opacity=".6"/><rect x="42.6" y="13.5" width="6.4" height="1.1" fill="#8a8a96" opacity=".7"/><rect x="43.6" y="15.7" width="4.6" height="1.1" fill="#8a8a96" opacity=".6"/><rect x="52.3" y="3.1" width="11.1" height="3.5" fill="#d6ee96"/><rect x="55.3" y="4.1" width="5.2" height="1.5" fill="#3c3c46" opacity=".55"/><rect x="55.9" y="8.3" width="3.6" height="1.3" fill="#55555f" opacity=".6"/><rect x="54.7" y="13.5" width="6.4" height="1.1" fill="#8a8a96" opacity=".7"/><rect x="55.7" y="15.7" width="4.6" height="1.1" fill="#8a8a96" opacity=".6"/><rect x="55.1" y="18.900000000000002" width="5.6" height="1.1" fill="#8a8a96" opacity=".6"/><rect x="55.9" y="21.1" width="4" height="1.1" fill="#8a8a96" opacity=".5"/><rect x="64.4" y="3.1" width="11.1" height="3.5" fill="#f7eaa8"/><rect x="67.4" y="4.1" width="5.2" height="1.5" fill="#3c3c46" opacity=".55"/><rect x="68.0" y="8.3" width="3.6" height="1.3" fill="#55555f" opacity=".6"/><rect x="66.8" y="13.5" width="6.4" height="1.1" fill="#8a8a96" opacity=".7"/><rect x="67.8" y="15.7" width="4.6" height="1.1" fill="#8a8a96" opacity=".6"/><rect x="76.5" y="3.1" width="11.1" height="3.5" fill="#fadabd"/><rect x="79.5" y="4.1" width="5.2" height="1.5" fill="#3c3c46" opacity=".55"/><rect x="80.1" y="8.3" width="3.6" height="1.3" fill="#55555f" opacity=".6"/><rect x="81.1" y="12.299999999999999" width="1.5" height="1.3" fill="#8a8a96" opacity=".6"/><rect x="3.9" y="26.1" width="11.1" height="3.5" fill="#f8c3c9"/><rect x="6.9" y="27.1" width="5.2" height="1.5" fill="#3c3c46" opacity=".55"/><rect x="3.9" y="33.4" width="11.1" height="0.9" fill="#f3a0ac"/><rect x="7.5" y="31.3" width="3.6" height="1.3" fill="#55555f" opacity=".6"/><rect x="8.5" y="35.3" width="1.5" height="1.3" fill="#8a8a96" opacity=".6"/><rect x="16.0" y="26.1" width="11.1" height="3.5" fill="#dcc1ea"/><rect x="19.0" y="27.1" width="5.2" height="1.5" fill="#3c3c46" opacity=".55"/><rect x="16.0" y="33.4" width="11.1" height="0.9" fill="#d59ae0"/><rect x="19.6" y="31.3" width="3.6" height="1.3" fill="#55555f" opacity=".6"/><rect x="18.4" y="36.5" width="6.4" height="1.1" fill="#8a8a96" opacity=".7"/><rect x="19.4" y="38.7" width="4.6" height="1.1" fill="#8a8a96" opacity=".6"/><rect x="28.1" y="26.1" width="11.1" height="3.5" fill="#d4c6ee"/><rect x="31.1" y="27.1" width="5.2" height="1.5" fill="#3c3c46" opacity=".55"/><rect x="28.1" y="33.4" width="11.1" height="0.9" fill="#b79ee6"/><rect x="31.7" y="31.3" width="3.6" height="1.3" fill="#55555f" opacity=".6"/><rect x="30.5" y="36.5" width="6.4" height="1.1" fill="#8a8a96" opacity=".7"/><rect x="31.5" y="38.7" width="4.6" height="1.1" fill="#8a8a96" opacity=".6"/><rect x="40.2" y="26.1" width="11.1" height="3.5" fill="#bcdffa"/><rect x="43.2" y="27.1" width="5.2" height="1.5" fill="#3c3c46" opacity=".55"/><rect x="40.2" y="33.4" width="11.1" height="0.9" fill="#7cc4f4"/><rect x="43.8" y="31.3" width="3.6" height="1.3" fill="#55555f" opacity=".6"/><rect x="42.6" y="36.5" width="6.4" height="1.1" fill="#8a8a96" opacity=".7"/><rect x="43.6" y="38.7" width="4.6" height="1.1" fill="#8a8a96" opacity=".6"/><rect x="43.0" y="41.900000000000006" width="5.6" height="1.1" fill="#8a8a96" opacity=".6"/><rect x="43.8" y="44.1" width="4" height="1.1" fill="#8a8a96" opacity=".5"/><rect x="52.3" y="26.1" width="11.1" height="3.5" fill="#d6ee96"/><rect x="55.3" y="27.1" width="5.2" height="1.5" fill="#3c3c46" opacity=".55"/><rect x="52.3" y="33.4" width="11.1" height="0.9" fill="#a6d84a"/><rect x="55.9" y="31.3" width="3.6" height="1.3" fill="#55555f" opacity=".6"/><rect x="54.7" y="36.5" width="6.4" height="1.1" fill="#8a8a96" opacity=".7"/><rect x="55.7" y="38.7" width="4.6" height="1.1" fill="#8a8a96" opacity=".6"/><rect x="64.4" y="26.1" width="11.1" height="3.5" fill="#f7eaa8"/><rect x="67.4" y="27.1" width="5.2" height="1.5" fill="#3c3c46" opacity=".55"/><rect x="64.4" y="33.4" width="11.1" height="0.9" fill="#ecd96a"/><rect x="68.0" y="31.3" width="3.6" height="1.3" fill="#55555f" opacity=".6"/><rect x="66.8" y="36.5" width="6.4" height="1.1" fill="#8a8a96" opacity=".7"/><rect x="67.8" y="38.7" width="4.6" height="1.1" fill="#8a8a96" opacity=".6"/><rect x="76.5" y="26.1" width="11.1" height="3.5" fill="#fadabd"/><rect x="79.5" y="27.1" width="5.2" height="1.5" fill="#3c3c46" opacity=".55"/><rect x="76.5" y="33.4" width="11.1" height="0.9" fill="#f4bc8c"/><rect x="80.1" y="31.3" width="3.6" height="1.3" fill="#55555f" opacity=".6"/><rect x="81.1" y="35.3" width="1.5" height="1.3" fill="#8a8a96" opacity=".6"/><rect x="3.9" y="48.4" width="11.1" height="3.5" fill="#f8c3c9"/><rect x="6.9" y="49.4" width="5.2" height="1.5" fill="#3c3c46" opacity=".55"/><rect x="7.5" y="53.6" width="3.6" height="1.3" fill="#55555f" opacity=".6"/><rect x="8.5" y="57.599999999999994" width="1.5" height="1.3" fill="#8a8a96" opacity=".6"/><rect x="16.0" y="48.4" width="11.1" height="3.5" fill="#dcc1ea"/><rect x="19.0" y="49.4" width="5.2" height="1.5" fill="#3c3c46" opacity=".55"/><rect x="19.6" y="53.6" width="3.6" height="1.3" fill="#55555f" opacity=".6"/><rect x="18.4" y="58.8" width="6.4" height="1.1" fill="#8a8a96" opacity=".7"/><rect x="19.4" y="61.0" width="4.6" height="1.1" fill="#8a8a96" opacity=".6"/><rect x="28.1" y="48.4" width="11.1" height="3.5" fill="#d4c6ee"/><rect x="31.1" y="49.4" width="5.2" height="1.5" fill="#3c3c46" opacity=".55"/><rect x="31.7" y="53.6" width="3.6" height="1.3" fill="#55555f" opacity=".6"/><rect x="30.5" y="58.8" width="6.4" height="1.1" fill="#8a8a96" opacity=".7"/><rect x="31.5" y="61.0" width="4.6" height="1.1" fill="#8a8a96" opacity=".6"/><rect x="30.9" y="64.2" width="5.6" height="1.1" fill="#8a8a96" opacity=".6"/><rect x="31.7" y="66.4" width="4" height="1.1" fill="#8a8a96" opacity=".5"/><rect x="40.2" y="48.4" width="11.1" height="3.5" fill="#bcdffa"/><rect x="43.2" y="49.4" width="5.2" height="1.5" fill="#3c3c46" opacity=".55"/><rect x="43.8" y="53.6" width="3.6" height="1.3" fill="#55555f" opacity=".6"/><rect x="42.6" y="58.8" width="6.4" height="1.1" fill="#8a8a96" opacity=".7"/><rect x="43.6" y="61.0" width="4.6" height="1.1" fill="#8a8a96" opacity=".6"/><rect x="52.3" y="48.4" width="11.1" height="3.5" fill="#d6ee96"/><rect x="55.3" y="49.4" width="5.2" height="1.5" fill="#3c3c46" opacity=".55"/><rect x="55.9" y="53.6" width="3.6" height="1.3" fill="#55555f" opacity=".6"/><rect x="54.7" y="58.8" width="6.4" height="1.1" fill="#8a8a96" opacity=".7"/><rect x="55.7" y="61.0" width="4.6" height="1.1" fill="#8a8a96" opacity=".6"/><rect x="64.4" y="48.4" width="11.1" height="3.5" fill="#f7eaa8"/><rect x="67.4" y="49.4" width="5.2" height="1.5" fill="#3c3c46" opacity=".55"/><rect x="68.0" y="53.6" width="3.6" height="1.3" fill="#55555f" opacity=".6"/><rect x="66.8" y="58.8" width="6.4" height="1.1" fill="#8a8a96" opacity=".7"/><rect x="67.8" y="61.0" width="4.6" height="1.1" fill="#8a8a96" opacity=".6"/><rect x="67.2" y="64.2" width="5.6" height="1.1" fill="#8a8a96" opacity=".6"/><rect x="68.0" y="66.4" width="4" height="1.1" fill="#8a8a96" opacity=".5"/><rect x="76.5" y="48.4" width="11.1" height="3.5" fill="#fadabd"/><rect x="79.5" y="49.4" width="5.2" height="1.5" fill="#3c3c46" opacity=".55"/><rect x="80.1" y="53.6" width="3.6" height="1.3" fill="#55555f" opacity=".6"/><rect x="81.1" y="57.599999999999994" width="1.5" height="1.3" fill="#8a8a96" opacity=".6"/><rect x="3.9" y="71.5" width="11.1" height="3.5" fill="#f8c3c9"/><rect x="6.9" y="72.5" width="5.2" height="1.5" fill="#3c3c46" opacity=".55"/><rect x="7.5" y="76.7" width="3.6" height="1.3" fill="#55555f" opacity=".6"/><rect x="8.5" y="80.7" width="1.5" height="1.3" fill="#8a8a96" opacity=".6"/><rect x="16.0" y="71.5" width="11.1" height="3.5" fill="#dcc1ea"/><rect x="19.0" y="72.5" width="5.2" height="1.5" fill="#3c3c46" opacity=".55"/><rect x="19.6" y="76.7" width="3.6" height="1.3" fill="#55555f" opacity=".6"/><rect x="18.4" y="81.9" width="6.4" height="1.1" fill="#8a8a96" opacity=".7"/><rect x="19.4" y="84.1" width="4.6" height="1.1" fill="#8a8a96" opacity=".6"/><rect x="18.8" y="87.3" width="5.6" height="1.1" fill="#8a8a96" opacity=".6"/><rect x="19.6" y="89.5" width="4" height="1.1" fill="#8a8a96" opacity=".5"/><rect x="28.1" y="71.5" width="11.1" height="3.5" fill="#d4c6ee"/><rect x="31.1" y="72.5" width="5.2" height="1.5" fill="#3c3c46" opacity=".55"/><rect x="31.7" y="76.7" width="3.6" height="1.3" fill="#55555f" opacity=".6"/><rect x="30.5" y="81.9" width="6.4" height="1.1" fill="#8a8a96" opacity=".7"/><rect x="31.5" y="84.1" width="4.6" height="1.1" fill="#8a8a96" opacity=".6"/><rect x="40.2" y="71.5" width="11.1" height="3.5" fill="#bcdffa"/><rect x="43.2" y="72.5" width="5.2" height="1.5" fill="#3c3c46" opacity=".55"/><rect x="43.8" y="76.7" width="3.6" height="1.3" fill="#55555f" opacity=".6"/><rect x="42.6" y="81.9" width="6.4" height="1.1" fill="#8a8a96" opacity=".7"/><rect x="43.6" y="84.1" width="4.6" height="1.1" fill="#8a8a96" opacity=".6"/><rect x="52.3" y="71.5" width="11.1" height="3.5" fill="#d6ee96"/><rect x="55.3" y="72.5" width="5.2" height="1.5" fill="#3c3c46" opacity=".55"/><rect x="55.9" y="76.7" width="3.6" height="1.3" fill="#55555f" opacity=".6"/><rect x="54.7" y="81.9" width="6.4" height="1.1" fill="#8a8a96" opacity=".7"/><rect x="55.7" y="84.1" width="4.6" height="1.1" fill="#8a8a96" opacity=".6"/><rect x="55.1" y="87.3" width="5.6" height="1.1" fill="#8a8a96" opacity=".6"/><rect x="55.9" y="89.5" width="4" height="1.1" fill="#8a8a96" opacity=".5"/><rect x="64.4" y="71.5" width="11.1" height="3.5" fill="#f7eaa8"/><rect x="67.4" y="72.5" width="5.2" height="1.5" fill="#3c3c46" opacity=".55"/><rect x="68.0" y="76.7" width="3.6" height="1.3" fill="#55555f" opacity=".6"/><rect x="66.8" y="81.9" width="6.4" height="1.1" fill="#8a8a96" opacity=".7"/><rect x="67.8" y="84.1" width="4.6" height="1.1" fill="#8a8a96" opacity=".6"/><rect x="76.5" y="71.5" width="11.1" height="3.5" fill="#fadabd"/><rect x="79.5" y="72.5" width="5.2" height="1.5" fill="#3c3c46" opacity=".55"/><rect x="80.1" y="76.7" width="3.6" height="1.3" fill="#55555f" opacity=".6"/><rect x="81.1" y="80.7" width="1.5" height="1.3" fill="#8a8a96" opacity=".6"/></svg>
<svg class="a" style="left:1473px;top:372.5px;border-radius:0 8px 8px 0" width="92.7" height="93.4" viewBox="0 0 92.6 93.4"><rect width="92.6" height="93.4" fill="#f4f4f6"/><rect x="0" y="16.7" width="4.9" height="58.5" fill="#d9c8e9"/><rect x="0" y="16.7" width="4.9" height="1.2" fill="#a48bc0"/><rect x="1.3" y="27" width="1.7" height="38" fill="#3e3350" opacity=".75"/><rect x="10" y="21.5" width=".7" height="49" fill="#c6c6d0"/><rect x="15.9" y="17.6" width="63" height="7.5" fill="#f8e7a6"/><rect x="15.9" y="17.6" width="63" height="1.2" fill="#8d8672"/><rect x="23.9" y="21.1" width="47" height="1.6" fill="#5a5444" opacity=".5"/><rect x="16.2" y="27.400000000000002" width="10.300" height="2.600" fill="#ddf0a0"/><rect x="17.2" y="28.0" width="7.6" height="1.4" fill="#2e3a1c" opacity=".8"/><rect x="28" y="28.0" width="48.5" height="1.3" fill="#55555f" opacity=".55"/><rect x="15.9" y="34.2" width="63" height="7.5" fill="#f8e7a6"/><rect x="15.9" y="34.2" width="63" height="1.2" fill="#8d8672"/><rect x="22.4" y="37.7" width="50" height="1.6" fill="#5a5444" opacity=".5"/><rect x="16.2" y="44.0" width="10.300" height="2.600" fill="#ddf0a0"/><rect x="17.2" y="44.6" width="7.6" height="1.4" fill="#2e3a1c" opacity=".8"/><rect x="28" y="44.6" width="64.6" height="1.3" fill="#55555f" opacity=".55"/><rect x="15.9" y="51.1" width="63" height="7.5" fill="#f8e7a6"/><rect x="15.9" y="51.1" width="63" height="1.2" fill="#8d8672"/><rect x="26.4" y="54.6" width="42" height="1.6" fill="#5a5444" opacity=".5"/><rect x="16.2" y="60.900000000000006" width="10.300" height="2.600" fill="#ddf0a0"/><rect x="17.2" y="61.5" width="7.6" height="1.4" fill="#2e3a1c" opacity=".8"/><rect x="28" y="61.5" width="37" height="1.3" fill="#55555f" opacity=".55"/><rect x="15.9" y="67.9" width="63" height="7.5" fill="#f8e7a6"/><rect x="15.9" y="67.9" width="63" height="1.2" fill="#8d8672"/><rect x="22.4" y="71.4" width="50" height="1.6" fill="#5a5444" opacity=".5"/><rect x="16.2" y="77.7" width="10.300" height="2.600" fill="#ddf0a0"/><rect x="17.2" y="78.30000000000001" width="7.6" height="1.4" fill="#2e3a1c" opacity=".8"/><rect x="28" y="78.30000000000001" width="33.8" height="1.3" fill="#55555f" opacity=".55"/><rect x="79.300" y="88.500" width="2.2" height="1.8" fill="#ff642d"/><rect x="82.800" y="88.500" width="6.900" height="1.800" fill="#1d1d25"/><rect x="0" y="89.400" width="3.200" height="1" fill="#70707a"/><rect x="5.2" y="89.600" width="1.200" height="1" fill="#a0a0aa"/></svg>
<div class="a" style="left:1292.5px;top:268.6px;width:273.2px;height:93.4px;box-sizing:border-box;border:1px solid #dfe0e8;border-radius:8px"></div>
<div class="a" style="left:1292.5px;top:372.5px;width:273.2px;height:93.3px;box-sizing:border-box;border:1px solid #dfe0e8;border-radius:8px"></div>
<div class="t" style="left:1485.2px;top:376.6px;font-size:7px;line-height:8px;font-weight:700;color:#1d1d25;transform:scaleX(.757);transform-origin:0 0">What to Do with 404 Pages</div>
</body></html>
